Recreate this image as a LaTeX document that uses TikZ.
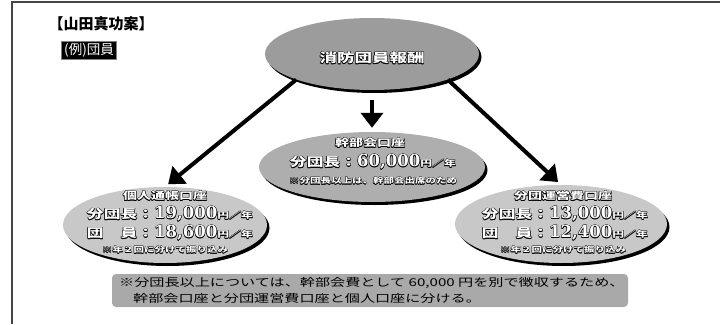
\documentclass[tikz,border=0pt]{standalone}
\usepackage{fontspec}
\usetikzlibrary{shapes.geometric,arrows.meta,shadows}
\setmainfont{Liberation Serif}
\newfontfamily\jp[FakeStretch=1.4]{Noto Sans CJK JP}
\newfontfamily\jpn{Noto Sans CJK JP}
\newfontfamily\num{DejaVu Serif}
\definecolor{topgray}{HTML}{9C9C9C}
\definecolor{midgray}{HTML}{AEAEAE}
\definecolor{sidegray}{HTML}{C8C8C8}
\definecolor{boxgray}{HTML}{A9A9A9}
\definecolor{framegray}{HTML}{444444}
\newlength\hl
\setlength\hl{0.5pt}
\newcommand\halo[1]{\begingroup\setbox0=\hbox{#1}%
 \rlap{\color{black}\kern-\hl\copy0}%
 \rlap{\color{black}\kern\hl\copy0}%
 \rlap{\color{black}\raise\hl\copy0}%
 \rlap{\color{black}\lower\hl\copy0}%
 \rlap{\color{black}\kern-.7\hl\raise.7\hl\copy0}%
 \rlap{\color{black}\kern.7\hl\raise.7\hl\copy0}%
 \rlap{\color{black}\kern-.7\hl\lower.7\hl\copy0}%
 \rlap{\color{black}\kern.7\hl\lower.7\hl\copy0}%
 {\color{white}\box0}\endgroup}
\newcommand\amount[2]{\halo{{\jp\bfseries\fontsize{12}{14}\selectfont #1}{\num\bfseries\fontsize{16.5}{18}\selectfont #2}{\jp\bfseries\fontsize{8.5}{10}\selectfont 円／年}}}
\newcommand\acct[1]{\halo{\jp\bfseries\fontsize{10}{12}\selectfont #1}}
\newcommand\smalltxt[1]{{\setlength\hl{0.35pt}\halo{\jp\bfseries\fontsize{7.5}{9}\selectfont #1}}}
\tikzset{
  ell/.style={ellipse, inner sep=0pt, draw=none,
    drop shadow={shadow xshift=2.5pt, shadow yshift=-3pt, fill=black, opacity=1}},
  bigarrow/.style={line width=4pt, -{Triangle[length=15pt,width=22pt]}},
  txt/.style={inner sep=0pt}
}
\begin{document}
\begin{tikzpicture}[x=1pt,y=-1pt]
\useasboundingbox (0,0) rectangle (720,324);
\fill[white] (0,0) rectangle (720,324);
% frame
\draw[framegray, line width=1.5pt] (12,324) -- (12,2) -- (720,2);
% title
\node[txt] (title) at (101,24) {\jpn\bfseries\fontsize{15}{17}\selectfont 【山田真功案】};
\node[fill=black, text=white, draw=gray, line width=0.8pt, inner xsep=3pt, inner ysep=1.5pt, minimum height=18pt] (ex) at (89,50) {\jpn\fontsize{13.5}{15}\selectfont (例)団員};
% ellipse shapes
\path (372,54) coordinate (topc) (372,167) coordinate (midc) (165,225) coordinate (leftc) (561,224) coordinate (rightc);
\node[ell, fill=topgray, minimum width=214pt, minimum height=72pt] (top) at (topc) {};
\node[ell, fill=midgray, minimum width=226pt, minimum height=70pt] (mid) at (midc) {};
\node[ell, fill=sidegray, minimum width=204pt, minimum height=76pt] (left) at (leftc) {};
\node[ell, fill=sidegray, minimum width=212pt, minimum height=78pt] (right) at (rightc) {};
% arrows
\draw[bigarrow, shorten >=4pt] (top.south west) -- (left.north);
\draw[bigarrow, shorten >=4pt] (top.south east) -- (right.north);
\draw[bigarrow, shorten <=10pt, shorten >=4pt] (top.south) -- (mid.north);
% texts
\node[txt] (toptext) at (372,58) {\halo{\jp\bfseries\fontsize{12.5}{15}\selectfont 消防団員報酬}};
\node[txt] (m1) at (370,143) {\acct{幹部会口座}};
\node[txt] (m2) at (373,162) {\amount{分団長：}{60,000}};
\node[txt] (m3) at (373,181) {\smalltxt{※分団長以上は、幹部会出席のため}};
\node[txt] (l1) at (165,196) {\acct{個人通帳口座}};
\node[txt] (l2) at (170,214) {\amount{分団長：}{19,000}};
\node[txt] (l3) at (170,233) {\amount{団　員：}{18,600}};
\node[txt] (l4) at (165,250) {\smalltxt{※年２回に分けて振り込み}};
\node[txt] (r1) at (563,196) {\acct{分団運営費口座}};
\node[txt] (r2) at (565,214) {\amount{分団長：}{13,000}};
\node[txt] (r3) at (565,233) {\amount{団　員：}{12,400}};
\node[txt] (r4) at (563,250) {\smalltxt{※年２回に分けて振り込み}};
% bottom note
\node[rounded corners=4pt, fill=boxgray, minimum width=516pt, minimum height=33pt, inner sep=0pt] (note) at (370,290.5) {};
\node[txt, anchor=west] (n1) at (119,283) {\jp\fontsize{10.8}{12}\selectfont ※分団長以上については、幹部会費として 60,000 円を別で徴収するため、};
\node[txt, anchor=west] (n2) at (133,298) {\jp\fontsize{10.8}{12}\selectfont 幹部会口座と分団運営費口座と個人口座に分ける。};
\end{tikzpicture}
\end{document}
